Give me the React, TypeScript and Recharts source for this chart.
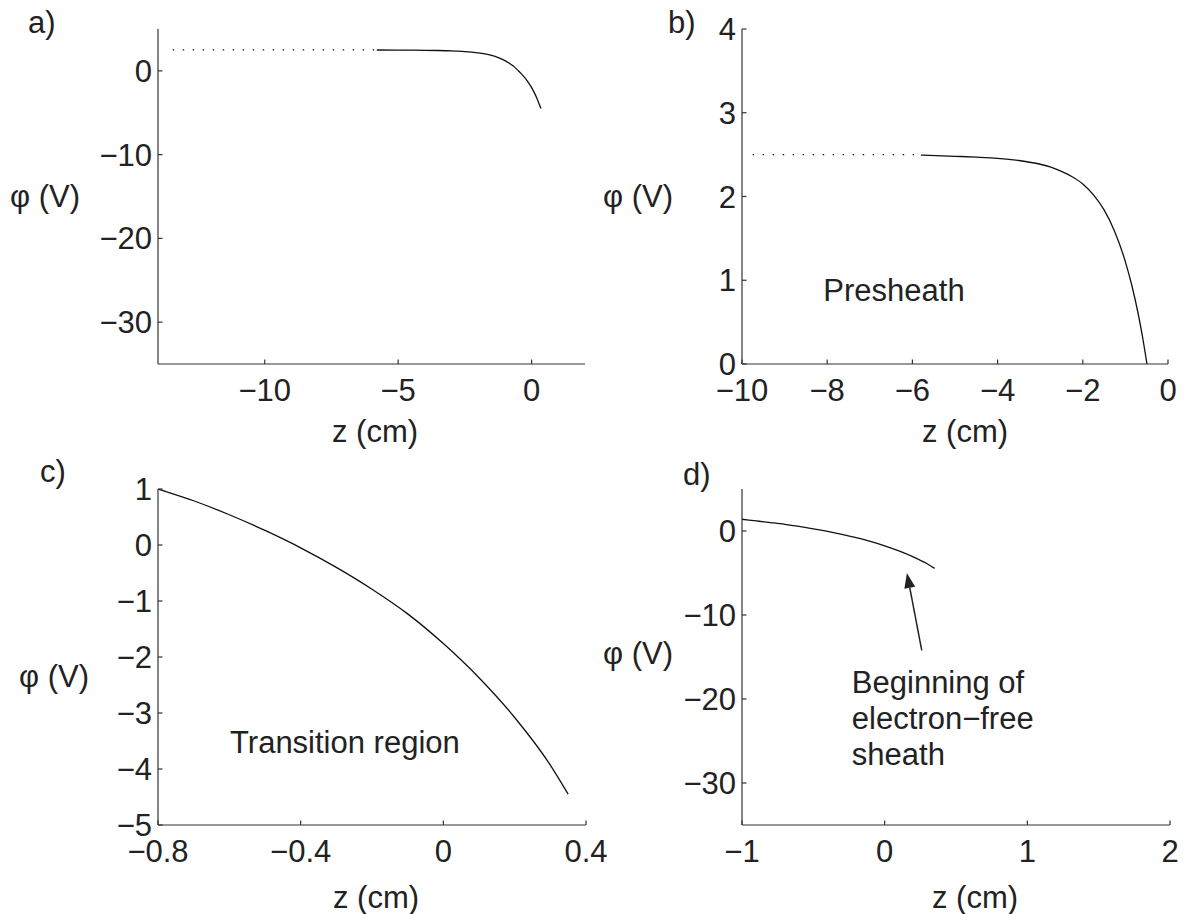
import React from 'react';
import { LineChart, Line, XAxis, YAxis, ReferenceLine, ReferenceDot } from 'recharts';

const PAGE_W = 1183;
const PAGE_H = 914;
const FONT = "'Liberation Sans', Arial, Helvetica, sans-serif";
const INK = '#222';
const AXIS = '#333';
const FS = 31;

// potential across presheath and into the transition region (panels a, b)
const presheathZ = [-5.8, -5.0, -4.5, -4.0, -3.5, -3.0, -2.75, -2.5, -2.25, -2.0, -1.75, -1.5, -1.25, -1.0, -0.85, -0.7, -0.6, -0.5, -0.4, -0.3, -0.2, -0.1, 0, 0.1, 0.2, 0.3, 0.35];
const presheathPhi = [2.495, 2.48, 2.47, 2.456, 2.43, 2.385, 2.35, 2.3, 2.236, 2.15, 2.02, 1.84, 1.58, 1.22, 0.94, 0.6, 0.33, 0.02, -0.3, -0.66, -1.05, -1.5, -2.0, -2.6, -3.3, -4.1, -4.5];

// transition region close-up (panels c, d)
const transitionZ = [-1.0, -0.9, -0.8, -0.7, -0.6, -0.5, -0.4, -0.3, -0.2, -0.1, 0, 0.1, 0.2, 0.3, 0.35];
const transitionPhi = [1.4, 1.2, 1.0, 0.79, 0.54, 0.26, -0.05, -0.4, -0.79, -1.23, -1.76, -2.37, -3.08, -3.93, -4.45];

// flat plasma potential, drawn dotted
const plateauZA = [-13.45, -5.8];
const plateauZB = [-9.75, -5.8];
const plateauPhi = 2.5;

// axis ticks
const ticksAX = [-10, -5, 0];
const ticksAY = [-30, -20, -10, 0];
const ticksBX = [-10, -8, -6, -4, -2, 0];
const ticksBY = [0, 1, 2, 3, 4];
const ticksCX = [-0.8, -0.4, 0, 0.4];
const ticksCY = [-5, -4, -3, -2, -1, 0, 1];
const ticksDX = [-1, 0, 1, 2];
const ticksDY = [-30, -20, -10, 0];

// annotation anchors (data coords)
const presheathAt = { z: -8.09, phi: 0.75 };
const transitionAt = { z: -0.598, phi: -3.71 };
const sheathAt = { z: -0.23, phi: -19.3 };
const arrowTail = { z: 0.26, phi: -14.2 };
const arrowTip = { z: 0.156, phi: -5.0 };

const toRows = (zs: number[], phis: number[]) => zs.map((z, i) => ({ z, phi: phis[i] }));
const flat = (zs: number[], v: number) => zs.map((z) => ({ z, phi: v }));

const fmt = (v: number) => (v < 0 ? '\u2212' + String(Math.abs(v)) : String(v));

const XTick = (p: any) => (
  <g>
    <line x1={p.x} x2={p.x} y1={p.y} y2={p.y - 4.5} stroke={AXIS} strokeWidth={1.2} />
    <text x={p.x} y={p.y + 37} textAnchor="middle" fontSize={FS} fontFamily={FONT} fill={INK}>
      {fmt(p.payload.value)}
    </text>
  </g>
);

const YTick = (p: any) => (
  <g>
    <line x1={p.x} x2={p.x + 4.5} y1={p.y} y2={p.y} stroke={AXIS} strokeWidth={1.2} />
    <text x={p.x - 6} y={p.y + 11} textAnchor="end" fontSize={FS} fontFamily={FONT} fill={INK}>
      {fmt(p.payload.value)}
    </text>
  </g>
);

const Arrow = (p: any) => {
  const { x1, y1, x2, y2 } = p;
  const ang = Math.atan2(y2 - y1, x2 - x1);
  const len = 15;
  const half = 5.5;
  const bx = x2 - len * Math.cos(ang);
  const by = y2 - len * Math.sin(ang);
  const nx = -Math.sin(ang) * half;
  const ny = Math.cos(ang) * half;
  return (
    <g>
      <line x1={x1} y1={y1} x2={bx} y2={by} stroke={INK} strokeWidth={1.5} />
      <polygon points={`${x2},${y2} ${bx + nx},${by + ny} ${bx - nx},${by - ny}`} fill={INK} />
    </g>
  );
};

const textShape = (lines: string[]) => (p: any) => (
  <text x={p.cx} y={p.cy} fontSize={FS} fontFamily={FONT} fill={INK}>
    {lines.map((s, i) => (
      <tspan key={i} x={p.cx} dy={i === 0 ? 0 : 36}>
        {s}
      </tspan>
    ))}
  </text>
);

interface PanelProps {
  plot: [number, number, number, number]; // left, top, right, bottom in px
  xDomain: [number, number];
  yDomain: [number, number];
  xTicks: number[];
  yTicks: number[];
  children?: React.ReactNode;
}

function Panel({ plot, xDomain, yDomain, xTicks, yTicks, children }: PanelProps) {
  const [l, t, r, b] = plot;
  return (
    <div style={{ position: 'absolute', left: 0, top: 0 }}>
      <LineChart
        width={PAGE_W}
        height={PAGE_H}
        margin={{ left: l - 60, top: t, right: PAGE_W - r, bottom: PAGE_H - b - 40 }}
      >
        <XAxis
          type="number"
          dataKey="z"
          domain={xDomain}
          ticks={xTicks}
          interval={0}
          allowDataOverflow
          height={40}
          tickSize={0}
          tickMargin={0}
          tickLine={false}
          tick={XTick}
          axisLine={{ stroke: AXIS, strokeWidth: 1.2 }}
        />
        <YAxis
          type="number"
          domain={yDomain}
          ticks={yTicks}
          interval={0}
          allowDataOverflow
          width={60}
          tickSize={0}
          tickMargin={0}
          tickLine={false}
          tick={YTick}
          axisLine={{ stroke: AXIS, strokeWidth: 1.2 }}
        />
        {children}
      </LineChart>
    </div>
  );
}

const curveProps = {
  dataKey: 'phi',
  stroke: '#111',
  strokeWidth: 1.3,
  dot: false,
  activeDot: false,
  type: 'monotone' as const,
  isAnimationActive: false,
};

export default function App() {
  const presheath = toRows(presheathZ, presheathPhi);
  const transition = toRows(transitionZ, transitionPhi);
  const labelStyle = { fontSize: FS, fontFamily: FONT, fill: INK };
  return (
    <div style={{ position: 'absolute', left: 0, top: 0, width: PAGE_W, height: PAGE_H, background: '#fff' }}>
      <Panel plot={[158, 29, 585, 364]} xDomain={[-14, 2]} yDomain={[-35, 5]} xTicks={ticksAX} yTicks={ticksAY}>
        <Line {...curveProps} data={flat(plateauZA, plateauPhi)} strokeDasharray="1.5 8.5" />
        <Line {...curveProps} data={presheath} />
      </Panel>
      <Panel plot={[742, 29, 1168, 364]} xDomain={[-10, 0]} yDomain={[0, 4]} xTicks={ticksBX} yTicks={ticksBY}>
        <Line {...curveProps} data={flat(plateauZB, plateauPhi)} strokeDasharray="1.5 8.5" />
        <Line {...curveProps} data={presheath} />
        <ReferenceDot x={presheathAt.z} y={presheathAt.phi} r={1} shape={textShape(['Presheath'])} />
      </Panel>
      <Panel plot={[158, 489, 586, 825]} xDomain={[-0.8, 0.4]} yDomain={[-5, 1]} xTicks={ticksCX} yTicks={ticksCY}>
        <Line {...curveProps} data={transition} />
        <ReferenceDot x={transitionAt.z} y={transitionAt.phi} r={1} shape={textShape(['Transition region'])} />
      </Panel>
      <Panel plot={[742, 489, 1170, 825]} xDomain={[-1, 2]} yDomain={[-35, 5]} xTicks={ticksDX} yTicks={ticksDY}>
        <Line {...curveProps} data={transition} />
        <ReferenceLine
          segment={[
            { x: arrowTail.z, y: arrowTail.phi },
            { x: arrowTip.z, y: arrowTip.phi },
          ]}
          shape={Arrow}
        />
        <ReferenceDot
          x={sheathAt.z}
          y={sheathAt.phi}
          r={1}
          shape={textShape(['Beginning of', 'electron\u2212free', 'sheath'])}
        />
      </Panel>
      <svg
        width={PAGE_W}
        height={PAGE_H}
        style={{ position: 'absolute', left: 0, top: 0, pointerEvents: 'none' }}
      >
        <text x={28} y={33} {...labelStyle}>a)</text>
        <text x={668} y={33} {...labelStyle}>b)</text>
        <text x={40} y={482} {...labelStyle}>c)</text>
        <text x={683} y={485} {...labelStyle}>d)</text>
        <text x={10} y={207} {...labelStyle}>φ (V)</text>
        <text x={603} y={207} {...labelStyle}>φ (V)</text>
        <text x={19} y={687} {...labelStyle}>φ (V)</text>
        <text x={603} y={664} {...labelStyle}>φ (V)</text>
        <text x={375} y={442} textAnchor="middle" {...labelStyle}>z (cm)</text>
        <text x={965} y={442} textAnchor="middle" {...labelStyle}>z (cm)</text>
        <text x={376} y={908} textAnchor="middle" {...labelStyle}>z (cm)</text>
        <text x={975} y={908} textAnchor="middle" {...labelStyle}>z (cm)</text>
      </svg>
    </div>
  );
}
